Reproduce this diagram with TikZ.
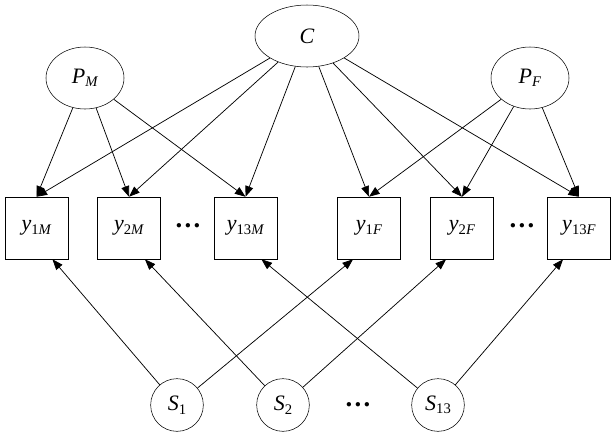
\documentclass[tikz,border=0pt]{standalone}
\usepackage{fontspec}
\setmainfont{Liberation Serif}
\usetikzlibrary{arrows.meta,shapes.geometric}
\newcommand{\lsub}[2]{\textit{#1}\raisebox{-0.35ex}{\fontsize{11}{13}\selectfont #2}}
\begin{document}
\begin{tikzpicture}[x=0.75pt,y=-0.75pt,
  every node/.style={font=\fontsize{16.5}{19}\selectfont},
  latent/.style={draw, ellipse, inner sep=0pt, minimum height=46.5pt},
  obsbox/.style={draw, rectangle, inner sep=0pt, minimum width=47.25pt, minimum height=46.5pt},
  pth/.style={-{Triangle[length=8pt,width=6pt]}, line width=0.55pt}]
\useasboundingbox (0,0) rectangle (615,437);
\node[latent, minimum width=78pt] (C) at (307,36) {\textit{C}};
\node[latent, minimum width=58.5pt] (PM) at (85,78) {\lsub{P}{\textit{M}}};
\node[latent, minimum width=58.5pt] (PF) at (530,78) {\lsub{P}{\textit{F}}};
\node[obsbox] (y1M) at (36.5,228) {\lsub{y}{1\textit{M}}};
\node[obsbox] (y2M) at (129,228) {\lsub{y}{2\textit{M}}};
\node at (188,226) {\fontsize{20}{22}\selectfont\textbf{…}};
\node[obsbox] (y13M) at (245.5,228) {\lsub{y}{13\textit{M}}};
\node[obsbox] (y1F) at (369,228) {\lsub{y}{1\textit{F}}};
\node[obsbox] (y2F) at (462,228) {\lsub{y}{2\textit{F}}};
\node at (522,226) {\fontsize{20}{22}\selectfont\textbf{…}};
\node[obsbox] (y13F) at (579,228) {\lsub{y}{13\textit{F}}};
\node[draw, circle, inner sep=0pt, minimum size=39.5pt] (S1) at (177,405) {\lsub{S}{1}};
\node[draw, circle, inner sep=0pt, minimum size=39.5pt] (S2) at (283,405) {\lsub{S}{2}};
\node at (358,405) {\fontsize{20}{22}\selectfont\textbf{…}};
\node[draw, circle, inner sep=0pt, minimum size=39.5pt] (S13) at (438,405) {\lsub{S}{13}};

\foreach \t in {y1M,y2M,y13M} \draw[pth] (PM) -- (\t.north);
\foreach \t in {y1M,y2M,y13M,y1F,y2F,y13F} \draw[pth] (C) -- (\t.north);
\foreach \t in {y1F,y2F,y13F} \draw[pth] (PF) -- (\t.north);

\draw[pth] (S1) -- (y1M.-63);
\draw[pth] (S1) -- (y1F.-117);
\draw[pth] (S2) -- (y2M.-63);
\draw[pth] (S2) -- (y2F.-117);
\draw[pth] (S13) -- (y13M.-63);
\draw[pth] (S13) -- (y13F.-117);
\end{tikzpicture}
\end{document}
